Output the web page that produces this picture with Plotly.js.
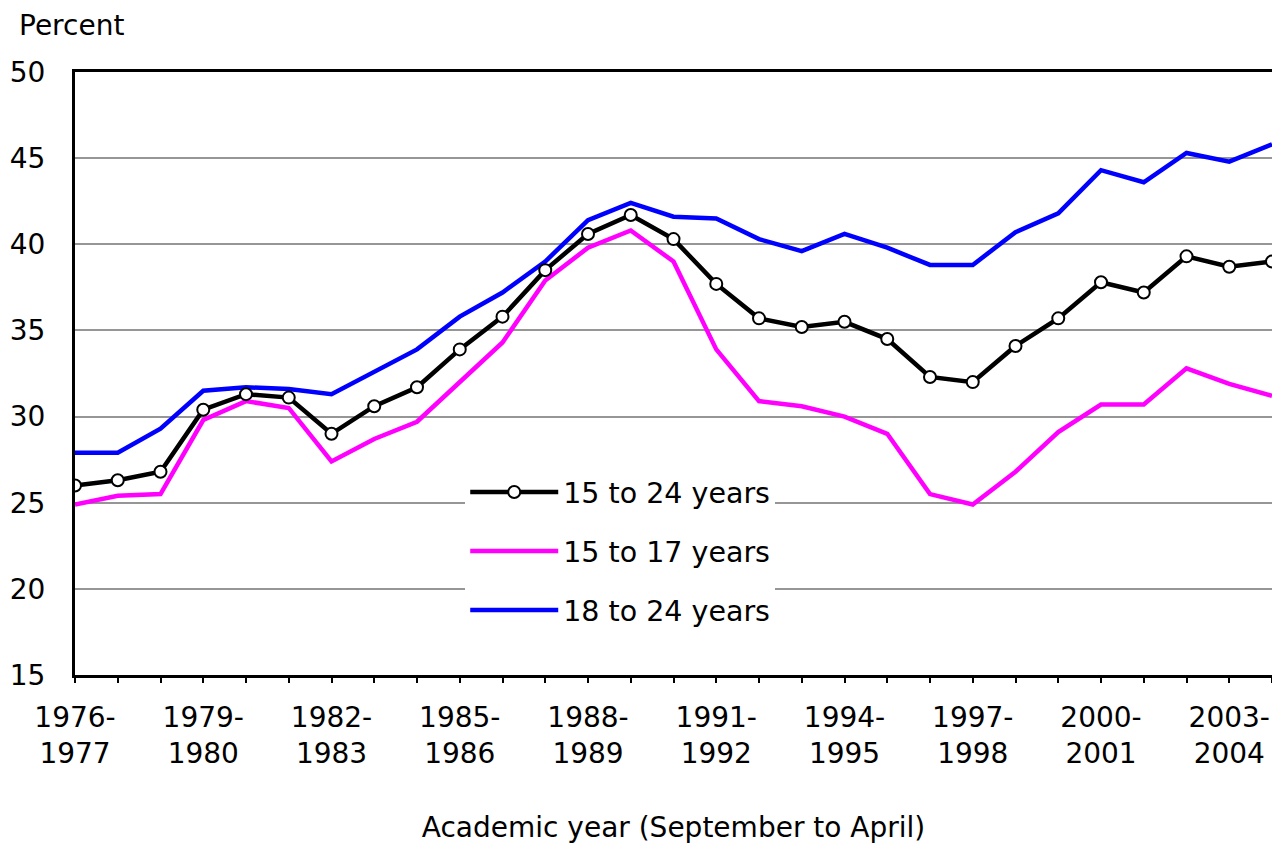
<!DOCTYPE html>
<html>
<head>
<meta charset="utf-8">
<script src="https://cdn.plot.ly/plotly-3.0.1.min.js"></script>
<style>
  html, body { margin: 0; padding: 0; background: #fff; }
  #chart { width: 1272px; height: 844px; }
</style>
</head>
<body>
<div id="chart"></div>
<script>
// Academic years (start year of each September-to-April year)
const startYears = [1976, 1977, 1978, 1979, 1980, 1981, 1982, 1983, 1984, 1985,
  1986, 1987, 1988, 1989, 1990, 1991, 1992, 1993, 1994, 1995,
  1996, 1997, 1998, 1999, 2000, 2001, 2002, 2003, 2004];

// Percent, by age group
const age15to24 = [26.0, 26.3, 26.8, 30.4, 31.3, 31.1, 29.0, 30.6, 31.7, 33.9,
  35.8, 38.5, 40.6, 41.7, 40.3, 37.7, 35.7, 35.2, 35.5, 34.5,
  32.3, 32.0, 34.1, 35.7, 37.8, 37.2, 39.3, 38.7, 39.0];
const age15to17 = [24.9, 25.4, 25.5, 29.8, 30.9, 30.5, 27.4, 28.7, 29.7, 32.0,
  34.3, 37.9, 39.8, 40.8, 39.0, 33.9, 30.9, 30.6, 30.0, 29.0,
  25.5, 24.9, 26.8, 29.1, 30.7, 30.7, 32.8, 31.9, 31.2];
const age18to24 = [27.9, 27.9, 29.3, 31.5, 31.7, 31.6, 31.3, 32.6, 33.9, 35.8,
  37.2, 39.0, 41.4, 42.4, 41.6, 41.5, 40.3, 39.6, 40.6, 39.8,
  38.8, 38.8, 40.7, 41.8, 44.3, 43.6, 45.3, 44.8, 45.8];

// Tick labels on the x axis
const tickYears = [1976, 1979, 1982, 1985, 1988, 1991, 1994, 1997, 2000, 2003];
const tickLabels = ["1976-<br>1977", "1979-<br>1980", "1982-<br>1983", "1985-<br>1986",
  "1988-<br>1989", "1991-<br>1992", "1994-<br>1995", "1997-<br>1998",
  "2000-<br>2001", "2003-<br>2004"];

const seriesNames = ["15 to 24 years", "15 to 17 years", "18 to 24 years"];

const FONT = "DejaVu Sans, Arial, sans-serif";

const traces = [
  {
    x: startYears, y: age18to24, name: seriesNames[2], type: "scatter", mode: "lines",
    line: { color: "#0000ff", width: 4.5 }, legendrank: 3, legendgroup: "c"
  },
  {
    x: startYears, y: age15to17, name: seriesNames[1], type: "scatter", mode: "lines",
    line: { color: "#ff00ff", width: 4.5 }, legendrank: 2, legendgroup: "b"
  },
  {
    x: startYears, y: age15to24, name: seriesNames[0], type: "scatter", mode: "lines+markers",
    line: { color: "#000000", width: 4.5 },
    marker: { symbol: "circle", size: 12, color: "#ffffff", line: { color: "#000000", width: 2 } },
    legendrank: 1, legendgroup: "a"
  }
];

const layout = {
  width: 1272, height: 844,
  margin: { l: 75, r: 0, t: 72, b: 169 },
  paper_bgcolor: "#ffffff", plot_bgcolor: "#ffffff",
  font: { family: FONT, size: 28, color: "#000000" },
  showlegend: true,
  legend: {
    x: 0.326, y: 0.345, xanchor: "left", yanchor: "top",
    bgcolor: "#ffffff", borderwidth: 0,
    font: { family: FONT, size: 28.5, color: "#000000" },
    traceorder: "grouped", tracegroupgap: 19, itemwidth: 88
  },
  xaxis: {
    range: [1976, 2004], tickvals: tickYears, ticktext: tickLabels,
    showgrid: false, zeroline: false,
    showline: true, linecolor: "#000000", linewidth: 3, mirror: true,
    ticks: "outside", ticklen: 5, tickwidth: 2, tickcolor: "#000000",
    minor: { dtick: 1, tick0: 1976, ticks: "outside", ticklen: 5, tickwidth: 2, tickcolor: "#000000", showgrid: false },
    tickfont: { family: FONT, size: 28 },
    ticklabelstandoff: 10,
    title: { text: "Academic year (September to April)", font: { family: FONT, size: 28 }, standoff: 50 },
    fixedrange: true
  },
  yaxis: {
    range: [15, 50], dtick: 5, tick0: 15,
    showgrid: true, gridcolor: "#969696", gridwidth: 2,
    zeroline: false,
    showline: true, linecolor: "#000000", linewidth: 3,
    ticks: "", tickfont: { family: FONT, size: 28 },
    ticklabelstandoff: 21,
    fixedrange: true
  },
  annotations: [{
    text: "Percent", xref: "paper", yref: "paper",
    x: (17 - 75) / 1197, y: (675 - 25) / 603, xanchor: "left", yanchor: "middle",
    showarrow: false, font: { family: FONT, size: 28, color: "#000000" }
  }]
};

Plotly.newPlot("chart", traces, layout, { displayModeBar: false, staticPlot: true });
</script>
</body>
</html>
